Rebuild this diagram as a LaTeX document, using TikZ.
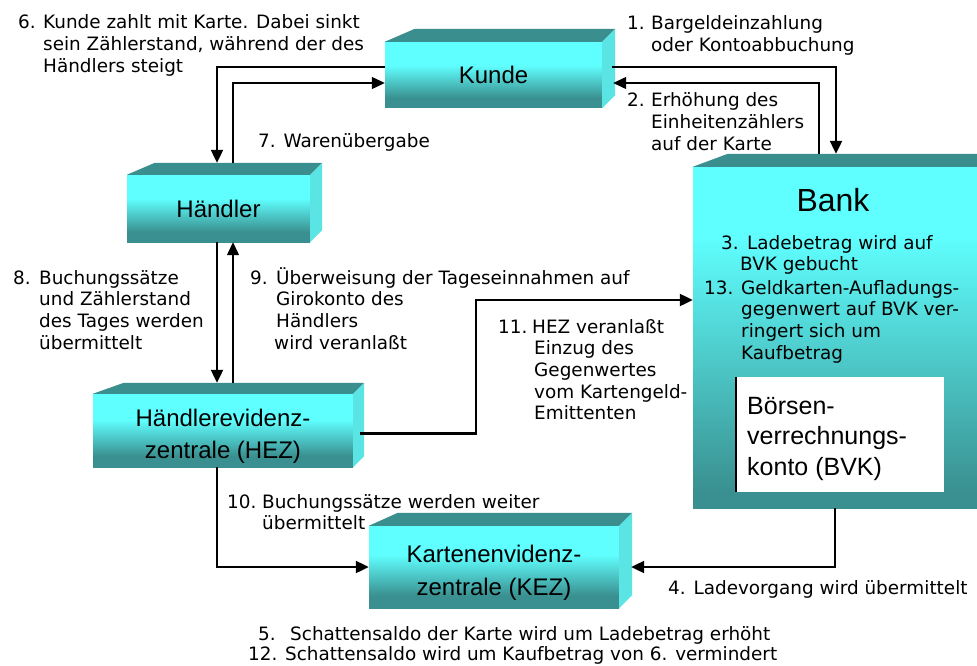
\documentclass[tikz,border=0pt]{standalone}
\usepackage{fontspec}
\setmainfont{Liberation Sans}
\newfontfamily\lblfont{DejaVu Sans}
\usetikzlibrary{arrows.meta}
\definecolor{cyanF}{RGB}{96,255,255}
\definecolor{tealB}{RGB}{58,144,144}
\definecolor{sideC}{RGB}{90,228,228}
\definecolor{topC}{RGB}{58,142,142}
\pgfdeclareverticalshading{boxshade}{100bp}{color(0bp)=(tealB); color(32.5bp)=(tealB); color(57.5bp)=(cyanF); color(100bp)=(cyanF)}
\pgfdeclareverticalshading{bankshade}{100bp}{color(0bp)=(tealB); color(27.5bp)=(tealB); color(65bp)=(cyanF); color(100bp)=(cyanF)}
\newcommand\numlab[3]{\begin{tabular}[t]{@{}l@{}l@{}}\makebox[#1][l]{#2}&#3\end{tabular}}
\tikzset{
  front/.style={shade, shading=boxshade, inner sep=0pt, align=center,
    font=\fontsize{24}{32.5}\selectfont},
  lbl/.style={font=\lblfont\fontsize{18.4}{21.7}\selectfont, inner sep=0pt, anchor=base west},
  conn/.style={line width=1.3pt, -{Triangle[length=13pt,width=12pt]}},
  thickconn/.style={conn, line width=2.2pt},
}
\begin{document}
\begin{tikzpicture}[x=1pt,y=-1pt]
\useasboundingbox (0,0) rectangle (977,666);
\fill[white] (0,0) rectangle (977,666);

% boxes (front faces)
\node[front, minimum width=217pt, minimum height=66pt] (kunde) at (493.5,75) {Kunde};
\node[front, minimum width=183pt, minimum height=67pt] (haendler) at (218.5,208.5) {Händler};
\node[front, minimum width=260pt, minimum height=73pt] (hez) at (223,430.5) {\rule{0pt}{29pt}Händlerevidenz-\\zentrale (HEZ)};
\node[front, minimum width=250pt, minimum height=82pt] (kez) at (494,567) {\rule{0pt}{29pt}Kartenenvidenz-\\zentrale (KEZ)};
\node[shade, shading=bankshade, inner sep=0pt, minimum width=290pt, minimum height=341pt] (bank) at (838,337.5) {};

% 3D faces
\foreach \n/\d/\c in {kunde/13/30,haendler/12/28,hez/11/31,kez/13/29,bank/13/35}{
  \fill[topC] (\n.north west) -- ([shift={(\c,-\d)}]\n.north west) -- ([shift={(\d,-\d)}]\n.north east) -- (\n.north east) -- cycle;
  \fill[sideC] (\n.north east) -- ([shift={(\d,-\d)}]\n.north east) -- ([shift={(\d,-\d)}]\n.south east) -- (\n.south east) -- cycle;
}

% bank contents
\node[font=\fontsize{32}{38}\selectfont, inner sep=0pt] (banktitle) at (833,200) {Bank};
\node[lbl] (l3) at (721,249) {\numlab{26pt}{3.}{Ladebetrag wird auf\\&\hspace*{-7pt}BVK gebucht}};
\node[lbl] (l13) at (704,294) {\numlab{37pt}{13.}{Geldkarten-Aufladungs-\\&gegenwert auf BVK ver-\\&ringert sich um\\&Kaufbetrag}};
\node[fill=white, inner sep=0pt, minimum width=208pt, minimum height=115pt] (bvk) at (840,434.5) {};
\draw[line width=1.8pt] (bvk.north west) -- (bvk.south west);
\node[font=\fontsize{25}{30.5}\selectfont, inner sep=0pt, anchor=base west] (bvktext) at (747,414)
  {\begin{tabular}[t]{@{}l@{}}Börsen-\\verrechnungs-\\konto (BVK)\end{tabular}};

% labels
\node[lbl] (l6) at (18,29) {\numlab{25pt}{6.}{Kunde zahlt mit Karte. Dabei sinkt\\&sein Zählerstand, während der des\\&Händlers steigt}};
\node[lbl] (l7) at (258,147) {7. Warenübergabe};
\node[lbl] (l1) at (627,30) {\numlab{24pt}{1.}{Bargeldeinzahlung\\&oder Kontoabbuchung}};
\node[lbl] (l2) at (627,107) {\numlab{24pt}{2.}{Erhöhung des\\&Einheitenzählers\\&auf der Karte}};
\node[lbl] (l8) at (13,284) {\numlab{26pt}{8.}{Buchungssätze\\&und Zählerstand\\&des Tages werden\\&übermittelt}};
\node[lbl] (l9) at (250,284) {\numlab{26pt}{9.}{Überweisung der Tageseinnahmen auf\\&Girokonto des\\&Händlers\\&\hspace*{-2pt}wird veranlaßt}};
\node[lbl] (l11) at (498,333) {\numlab{36pt}{11.}{\hspace*{-2pt}HEZ veranlaßt\\&Einzug des\\&Gegenwertes\\&vom Kartengeld-\\&Emittenten}};
\node[lbl] (l10) at (227,508) {\numlab{35pt}{10.}{Buchungssätze werden weiter\\&übermittelt}};
\node[lbl] (l4) at (668,594) {4. Ladevorgang wird übermittelt};
\node[lbl] (l5) at (258,640) {\makebox[32pt][l]{5.}Schattensaldo der Karte wird um Ladebetrag erhöht};
\node[lbl] (l12) at (248,660) {\makebox[37pt][l]{12.}Schattensaldo wird um Kaufbetrag von 6. vermindert};

% connector helpers
\coordinate (hT) at ([yshift=12pt]haendler.north);
\coordinate (hezT) at ([yshift=11pt]hez.north);
\coordinate (bankT) at ([yshift=13pt]bank.north);
\coordinate (b11) at (476,300);

% connectors
\draw[thickconn] ([yshift=8pt]kunde.west) -| ([xshift=-1.5pt]hT);
\draw[conn] ([xshift=14.5pt]hT) |- ([yshift=-8pt]kunde.west);
\draw[thickconn] ([xshift=10pt,yshift=8pt]kunde.east) -| ([xshift=-2pt]bankT);
\draw[conn] ([xshift=-19pt]bankT) |- ([xshift=11pt,yshift=-8pt]kunde.east);
\draw[thickconn] ([xshift=-1.5pt]haendler.south) -- ([xshift=-1.5pt]haendler.south |- hezT);
\draw[conn] ([xshift=14.5pt]haendler.south |- hezT) -- ([xshift=14.5pt]haendler.south);
\draw[thickconn] ([xshift=7pt,yshift=-3pt]hez.east) -| (b11) -- (b11 -| bank.west);
\draw[thickconn] ([xshift=-6pt]hez.south) |- (kez.west);
\draw[thickconn] ([xshift=-3pt]bank.south) |- ([xshift=12pt]kez.east);
\end{tikzpicture}
\end{document}
